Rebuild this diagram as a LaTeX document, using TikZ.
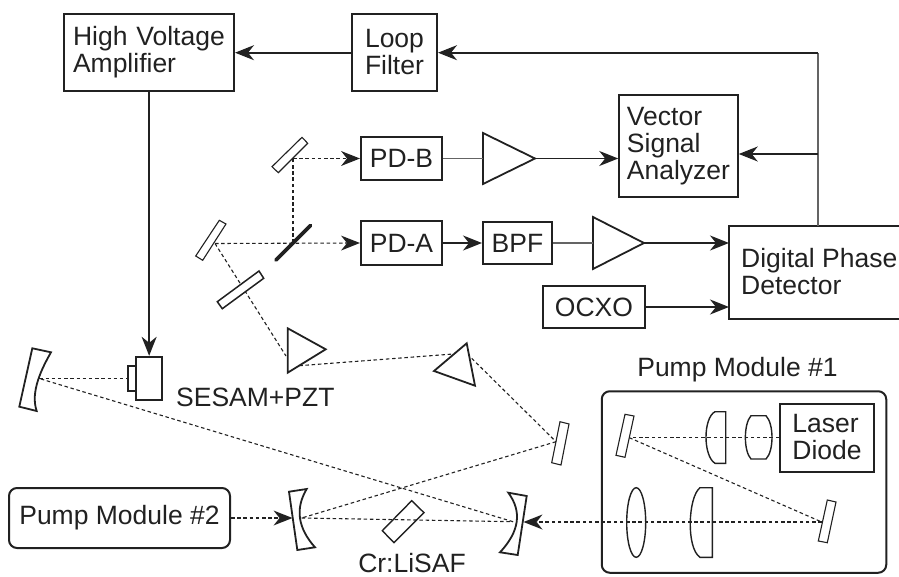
\documentclass[tikz,border=0pt]{standalone}
\usepackage{fontspec}
\setmainfont{Liberation Sans}
\usetikzlibrary{arrows.meta}
\definecolor{ink}{gray}{0.13}
\tikzset{x=1pt,y=-1pt,
 txt/.style={font=\fontsize{26.5}{27}\selectfont,text=ink},
 box/.style={draw=ink,line width=2pt,align=left,txt,inner sep=0pt},
 lbl/.style={txt,inner sep=0pt,align=left},
 opt/.style={draw=ink,line width=1.1pt},
 optk/.style={draw=ink,line width=1.8pt,line join=miter},
 beam/.style={draw=ink,line width=1.1pt,dash pattern=on 3.5pt off 2.7pt},
 tip/.style={-{Stealth[length=19pt,width=15pt,inset=6pt]}},
 sig/.style={draw=ink,line width=1.7pt,tip},
 wire/.style={draw=ink!70,line width=1.2pt},
 beamar/.style={beam,-{Stealth[length=19pt,width=15pt,inset=6pt,line width=0pt,fill=ink]}}}
\begin{document}
\begin{tikzpicture}
\useasboundingbox (0,0) rectangle (899,577);
% boxes
\node[box,minimum width=170pt,minimum height=77pt,text width=152pt] (hv) at (149,52.5) {High Voltage\\Amplifier};
\node[box,minimum width=85pt,minimum height=77pt] (lf) at (394.5,52.5) {Loop\\Filter};
\node[box,minimum width=118.5pt,minimum height=102pt] (vsa) at (678.5,146) {Vector\\Signal\\Analyzer};
\node[box,minimum width=81pt,minimum height=43pt] (pdb) at (401.5,158.5) {PD-B};
\node[box,minimum width=81pt,minimum height=44pt] (pda) at (401.5,243) {PD-A};
\node[box,minimum width=69pt,minimum height=42pt] (bpf) at (517.5,243) {BPF};
\node[box,minimum width=102pt,minimum height=42pt] (ocxo) at (594,307) {OCXO};
\coordinate (dpdNW) at (729,226);
\coordinate (dpdNE) at (899.5,226);
\coordinate (dpdSW) at (729,319);
\coordinate (dpdSE) at (899.5,319);
\draw[draw=ink,line width=2pt] (dpdNE) -- (dpdNW) -- (dpdSW) -- (dpdSE);
\node[lbl,anchor=west] (dpd) at (741,272) {Digital Phase\\Detector};
\node[box,rounded corners=8pt,minimum width=221pt,minimum height=60pt] (pm2) at (119.5,518) {Pump Module \#2};
\node[box,rounded corners=8pt,minimum width=284.5pt,minimum height=181.5pt] (pm1) at (744,482) {};
\node[lbl] (pm1t) at (737.5,369.5) {Pump Module \#1};
\node[box,minimum width=94pt,minimum height=68pt] (ld) at (827,437.5) {Laser\\Diode};
\node[lbl,anchor=base west] (ses) at (176,406.7) {SESAM+PZT};
\node[lbl] (cr) at (412,563) {Cr:LiSAF};
% amplifiers
\draw[optk] (483,133) -- (535,158.5) -- (483,184) -- cycle;
\draw[optk] (593,217) -- (644,243) -- (593,269) -- cycle;
\coordinate (a1in) at (483,158.5);
\coordinate (a1out) at (535,158.5);
\coordinate (a2in) at (593,243);
\coordinate (a2out) at (644,243);
% electrical connectors
\coordinate (dpdtop) at (818,226);
\coordinate (loopc) at (818,52.7);
\coordinate (vsac) at (818,154);
\draw[wire] (dpdtop) -- (loopc);
\draw[sig] (loopc) -- (lf.east |- loopc);
\draw[sig] (vsac) -- (vsa.east |- vsac);
\draw[sig] (lf.west |- loopc) -- (hv.east |- loopc);
\draw[wire] (pdb.east) -- (a1in);
\draw[sig] (a1out) -- (vsa.west |- a1out);
\draw[sig] (pda.east) -- (bpf.west);
\draw[wire] (bpf.east) -- (a2in);
\draw[sig] (a2out) -- (dpdNW |- a2out);
\draw[sig] (ocxo.east) -- (dpdNW |- ocxo.east);
% coordinates of the beam
\coordinate (m1) at (293,158.5);
\coordinate (bs) at (293,243);
\coordinate (m2) at (215,243.5);
\coordinate (pr1a) at (286,356);
\coordinate (pr1b) at (299.3,365.7);
\coordinate (pr2a) at (453.3,354);
\coordinate (pr2b) at (471.7,358.3);
\coordinate (fold) at (556,441.7);
\coordinate (cmL) at (301.7,518);
\coordinate (cmR) at (513,521.7);
\coordinate (endm) at (39.3,378.5);
\coordinate (f1) at (629.3,437.7);
\coordinate (f2) at (821.7,522);
% beams
\draw[beam] (bs) -- (m1);
\draw[beamar] (m1) -- (pdb.west);
\draw[beamar] (m2) -- (pda.west);
\draw[beam] (m2) -- (pr1a);
\draw[beam] (pr1b) -- (pr2a);
\draw[beam] (pr2b) -- (fold);
\draw[beam] (fold) -- (cmL);
\draw[beam] (cmL) -- (cmR);
\draw[beam] (cmR) -- (endm);
\draw[beam] (endm) -- (127.7,378.5);
\draw[beam] (ld.west |- f1) -- (f1);
\draw[beam] (f1) -- (f2);
\draw[beamar] (f2) -- (523.5,522);
\draw[beamar] (pm2.east |- cmL) -- (292.5,518);
% flat mirrors and crystal
\draw[opt] (302,137.3) -- (307.7,143.3) -- (278.3,172.7) -- (272,166.7) -- cycle;
\draw[opt] (219.3,220.3) -- (226,224) -- (202.7,260.3) -- (195.7,256) -- cycle;
\draw[draw=ink,line width=3.6pt,line cap=round] (276,260) -- (310.7,225.3);
\draw[optk,line width=1.5pt,fill=white] (259,271) -- (263.7,278.3) -- (222.3,308.7) -- (217.3,301.7) -- cycle;
\draw[opt] (560,421.7) -- (569,424) -- (561,465) -- (551.7,462.7) -- cycle;
\draw[opt] (625,414.3) -- (634,416) -- (625,457.3) -- (616,455.3) -- cycle;
\draw[opt] (827.3,500) -- (836,502) -- (827.3,542.7) -- (818.3,541) -- cycle;
\draw[opt,line width=1.4pt] (411.7,500.7) -- (424,512.7) -- (394,542.7) -- (382.3,530.7) -- cycle;
% prisms
\draw[optk] (287.7,328.3) -- (325.7,349.3) -- (287.7,372.7) -- cycle;
\draw[optk] (466.7,343.3) -- (475,385.7) -- (434,371) -- cycle;
% curved mirrors
\draw[optk] (289,491.7) -- (306.7,489) .. controls (295,508.6) and (297.8,528) .. (315,547.3) -- (297.3,550) -- cycle;
\draw[optk] (508.3,492.7) -- (526.7,496) -- (517.7,555) -- (500,552.3) .. controls (519.5,531.4) and (522.2,511.6) .. cycle;
\draw[optk] (32.3,348.3) -- (51,352.3) .. controls (42,368) and (30,392) .. (36.7,411) -- (19.3,406.7) -- cycle;
% SESAM
\node[draw=ink,line width=1.8pt,inner sep=0pt,minimum width=26.3pt,minimum height=43.3pt] (sesam) at (149.15,378.35) {};
\draw[optk] (127.7,365.7) rectangle (136,391);
\draw[sig] (hv.south -| sesam) -- (sesam.north);
% lenses
\draw[opt,line width=1.4pt] (725.7,411.7) -- (715,411.7) .. controls (703,418) and (703,456) .. (715,463.3) -- (725.7,463.3) -- cycle;
\draw[opt,line width=1.4pt] (751,415.7) .. controls (743.5,424) and (743.5,451) .. (751,459) -- (766,459) .. controls (774,451) and (774,424) .. (766,415.7) -- cycle;
\draw[opt,line width=1.4pt] (636.2,522.5) ellipse [x radius=9.5,y radius=34.8];
\draw[opt,line width=1.4pt] (712.3,487.7) -- (700,487.7) .. controls (688,497) and (686,548) .. (700,557.3) -- (712.3,557.3) -- cycle;
\end{tikzpicture}
\end{document}
